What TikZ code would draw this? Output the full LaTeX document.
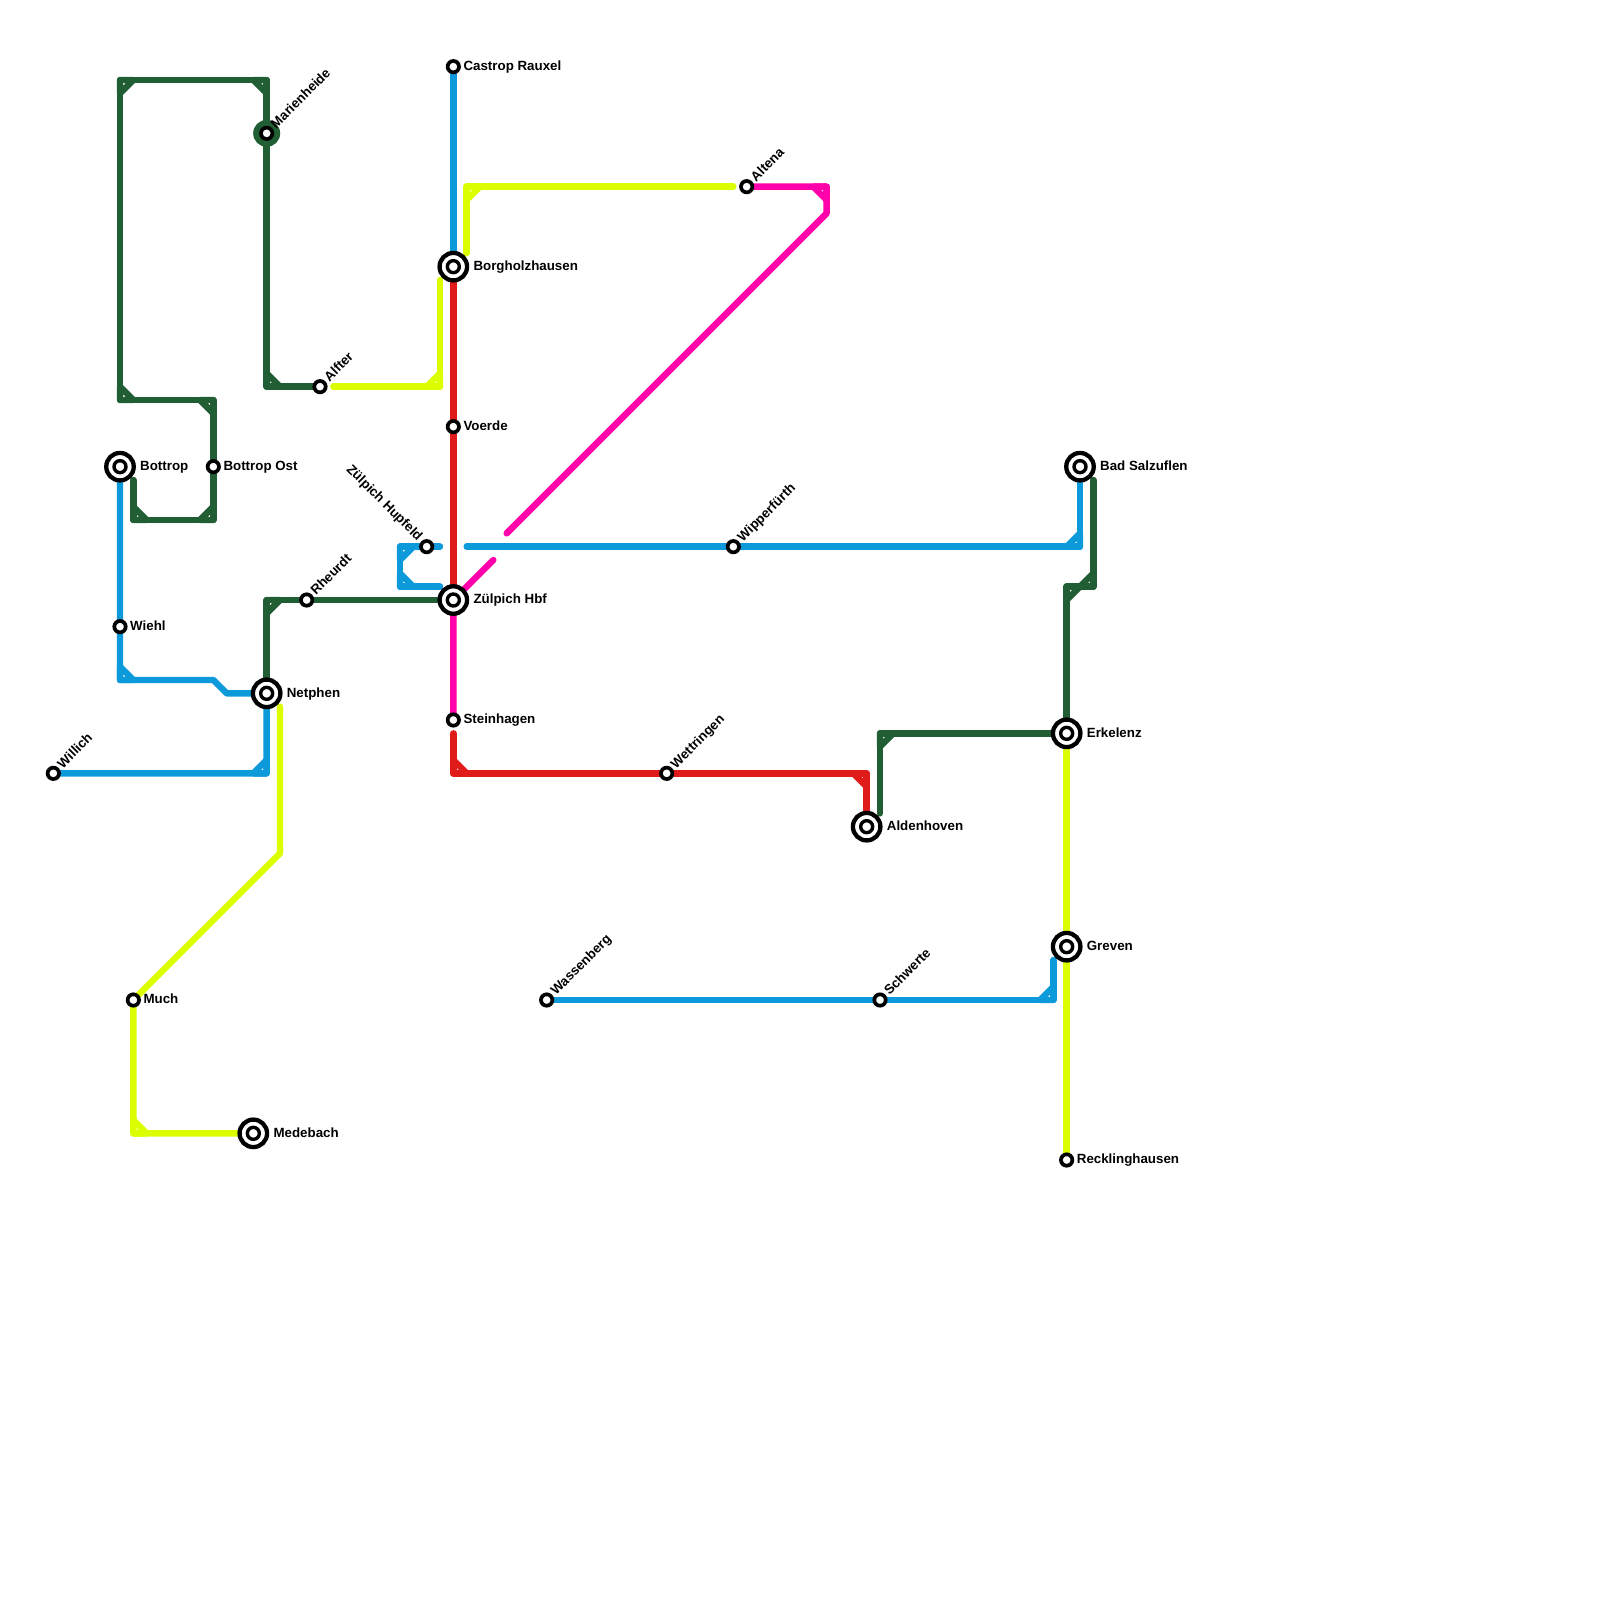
\documentclass[tikz,border=0pt]{standalone}
\usepackage{fontspec}
\setmainfont{Liberation Sans}
\usetikzlibrary{positioning, backgrounds}
\definecolor{linegreen}{HTML}{225E33}
\definecolor{lineblue}{HTML}{0D9ADA}
\definecolor{linered}{HTML}{E11B1A}
\definecolor{linepink}{HTML}{FF00AA}
\definecolor{lineyellow}{HTML}{DCFF00}
\tikzset{
  route/.style={line width=6.4pt, line cap=round, line join=round},
  greenl/.style={route, draw=linegreen},
  bluel/.style={route, draw=lineblue},
  redl/.style={route, draw=linered},
  pinkl/.style={route, draw=linepink},
  yellowl/.style={route, draw=lineyellow},
  stop/.style={circle, draw=black, fill=white, line width=3.7pt, minimum size=11.4pt, inner sep=0pt},
  inner ring/.style={path picture={\draw[line width=3.4pt, fill=white] (path picture bounding box.center) circle (6pt);}},
  hub/.style={circle, draw=black, fill=white, line width=4.3pt, minimum size=27.5pt, inner sep=0pt, inner ring},
  halo/.style={circle, fill=linegreen, minimum size=27pt, inner sep=0pt},
  lbl/.style={font=\fontsize{13.33}{14}\selectfont\bfseries, inner sep=0pt, text height=9.5pt, text depth=0pt, yshift=1pt},
  lblup/.style={lbl, rotate=45, anchor=west},
  lbldown/.style={lbl, rotate=-45, anchor=east}
}
\begin{document}
\begin{tikzpicture}[x=13.3333pt, y=-13.3333pt]
  \useasboundingbox (0,0) rectangle (120,120);

  % stations
  \node[stop] (castrop) at (34,5) {};
  \node[hub]  (borg) at (34,20) {};
  \node[stop] (voerde) at (34,32) {};
  \node[hub]  (zhbf) at (34,45) {};
  \node[stop] (stein) at (34,54) {};
  \node[stop] (hupfeld) at (32,41) {};
  \node[stop] (altena) at (56,14) {};
  \node[stop] (wipper) at (55,41) {};
  \node[stop] (wett) at (50,58) {};
  \node[hub]  (alden) at (65,62) {};
  \node[hub]  (erk) at (80,55) {};
  \node[hub]  (greven) at (80,71) {};
  \node[stop] (reck) at (80,87) {};
  \node[stop] (schwerte) at (66,75) {};
  \node[stop] (wassen) at (41,75) {};
  \node[hub]  (salz) at (81,35) {};
  \node[hub]  (bottrop) at (9,35) {};
  \node[stop] (bost) at (16,35) {};
  \node[stop] (wiehl) at (9,47) {};
  \node[hub]  (netphen) at (20,52) {};
  \node[stop] (rheurdt) at (23,45) {};
  \node[stop] (alfter) at (24,29) {};
  \node[halo] (mhalo) at (20,10) {};
  \node[stop] (marien) at (20,10) {};
  \node[stop] (willich) at (4,58) {};
  \node[stop] (much) at (10,75) {};
  \node[hub]  (mede) at (19,85) {};

  % labels
  \node[lbl, right=10pt of castrop.center] (l1) {Castrop Rauxel};
  \node[lbl, right=20pt of borg.center] (l2) {Borgholzhausen};
  \node[lbl, right=10pt of voerde.center] (l3) {Voerde};
  \node[lbl, right=20pt of zhbf.center] (l4) {Zülpich Hbf};
  \node[lbl, right=10pt of stein.center] (l5) {Steinhagen};
  \node[lbl, right=20pt of alden.center] (l6) {Aldenhoven};
  \node[lbl, right=20pt of erk.center] (l7) {Erkelenz};
  \node[lbl, right=20pt of greven.center] (l8) {Greven};
  \node[lbl, right=10pt of reck.center] (l9) {Recklinghausen};
  \node[lbl, right=20pt of salz.center] (l10) {Bad Salzuflen};
  \node[lbl, right=20pt of bottrop.center] (l11) {Bottrop};
  \node[lbl, right=10pt of bost.center] (l12) {Bottrop Ost};
  \node[lbl, right=10pt of wiehl.center] (l13) {Wiehl};
  \node[lbl, right=20pt of netphen.center] (l14) {Netphen};
  \node[lbl, right=10pt of much.center] (l15) {Much};
  \node[lbl, right=20pt of mede.center] (l16) {Medebach};
  \node[lblup] (l17) at ([shift={(6pt,6.5pt)}]marien.center) {Marienheide};
  \node[lblup] (l18) at ([shift={(6pt,6.5pt)}]alfter.center) {Alfter};
  \node[lblup] (l19) at ([shift={(6pt,6.5pt)}]rheurdt.center) {Rheurdt};
  \node[lblup] (l20) at ([shift={(6pt,6.5pt)}]altena.center) {Altena};
  \node[lblup] (l21) at ([shift={(6pt,6.5pt)}]wipper.center) {Wipperfürth};
  \node[lblup] (l22) at ([shift={(6pt,6.5pt)}]wett.center) {Wettringen};
  \node[lblup] (l23) at ([shift={(6pt,6.5pt)}]schwerte.center) {Schwerte};
  \node[lblup] (l24) at ([shift={(6pt,6.5pt)}]wassen.center) {Wassenberg};
  \node[lblup] (l25) at ([shift={(6pt,6.5pt)}]willich.center) {Willich};
  \node[lbldown] (l26) at ([shift={(-6pt,7.5pt)}]hupfeld.center) {Zülpich Hupfeld};

  % bends and free ends
  \coordinate (g1) at (20,6);
  \coordinate (g2) at (9,6);
  \coordinate (g3) at (9,30);
  \coordinate (g4) at (16,30);
  \coordinate (g5) at (16,39);
  \coordinate (g6) at (10,39);
  \coordinate (g7) at (10,36);
  \coordinate (g8) at (20,29);
  \coordinate (g9) at (20,45);
  \coordinate (g10) at (66,61);
  \coordinate (g11) at (66,55);
  \coordinate (g12) at (80,44);
  \coordinate (g13) at (82,44);
  \coordinate (g14) at (82,36);
  \coordinate (b1) at (9,51);
  \coordinate (b2) at (16,51);
  \coordinate (b3) at (17,52);
  \coordinate (b4) at (20,58);
  \coordinate (b5) at (33,41);
  \coordinate (b6) at (30,41);
  \coordinate (b7) at (30,44);
  \coordinate (b8) at (33,44);
  \coordinate (b9) at (35,41);
  \coordinate (b10) at (81,41);
  \coordinate (b11) at (79,75);
  \coordinate (b12) at (79,72);
  \coordinate (r1) at (34,55);
  \coordinate (r2) at (34,58);
  \coordinate (r3) at (65,58);
  \coordinate (p1) at (62,14);
  \coordinate (p2) at (62,16);
  \coordinate (p3) at (38,40);
  \coordinate (p4) at (37,42);
  \coordinate (y1) at (35,19);
  \coordinate (y2) at (35,14);
  \coordinate (y3) at (55,14);
  \coordinate (y4) at (33,21);
  \coordinate (y5) at (33,29);
  \coordinate (y6) at (25,29);
  \coordinate (y7) at (21,53);
  \coordinate (y8) at (21,64);
  \coordinate (y9) at (10,85);

  \begin{scope}[on background layer]
    % green
    \draw[greenl] (marien.center)--(g1)--(g2)--(g3)--(g4)--(bost.center)--(g5)--(g6)--(g7);
    \draw[greenl] (marien.center)--(g8)--(alfter.center);
    \draw[greenl] (netphen.center)--(g9)--(rheurdt.center)--(zhbf.center);
    \draw[greenl] (g10)--(g11)--(erk.center)--(g12)--(g13)--(g14);
    \draw[greenl] (g2) -- +(1,0) -- +(0,1) -- cycle;
    \draw[greenl] (g1) -- +(-1,0) -- +(0,1) -- cycle;
    \draw[greenl] (g3) -- +(1,0) -- +(0,-1) -- cycle;
    \draw[greenl] (g4) -- +(-1,0) -- +(0,1) -- cycle;
    \draw[greenl] (g5) -- +(-1,0) -- +(0,-1) -- cycle;
    \draw[greenl] (g6) -- +(1,0) -- +(0,-1) -- cycle;
    \draw[greenl] (g8) -- +(1,0) -- +(0,-1) -- cycle;
    \draw[greenl] (g9) -- +(1,0) -- +(0,1) -- cycle;
    \draw[greenl] (g11) -- +(1,0) -- +(0,1) -- cycle;
    \draw[greenl] (g12) -- +(1,0) -- +(0,1) -- cycle;
    \draw[greenl] (g13) -- +(-1,0) -- +(0,-1) -- cycle;
    % blue
    \draw[bluel] (castrop.center)--(borg.center);
    \draw[bluel] (bottrop.center)--(wiehl.center)--(b1)--(b2)--(b3)--(netphen.center)--(b4)--(willich.center);
    \draw[bluel] (b5)--(b6)--(b7)--(b8);
    \draw[bluel] (b9)--(wipper.center)--(b10)--(salz.center);
    \draw[bluel] (wassen.center)--(schwerte.center)--(b11)--(b12);
    \draw[bluel] (b1) -- +(1,0) -- +(0,-1) -- cycle;
    \draw[bluel] (b4) -- +(-1,0) -- +(0,-1) -- cycle;
    \draw[bluel] (b6) -- +(1,0) -- +(0,1) -- cycle;
    \draw[bluel] (b7) -- +(1,0) -- +(0,-1) -- cycle;
    \draw[bluel] (b10) -- +(-1,0) -- +(0,-1) -- cycle;
    \draw[bluel] (b11) -- +(-1,0) -- +(0,-1) -- cycle;
    % red
    \draw[redl] (borg.center)--(voerde.center)--(zhbf.center);
    \draw[redl] (r1)--(r2)--(wett.center)--(r3)--(alden.center);
    \draw[redl] (r2) -- +(1,0) -- +(0,-1) -- cycle;
    \draw[redl] (r3) -- +(-1,0) -- +(0,1) -- cycle;
    % pink
    \draw[pinkl] (altena.center)--(p1)--(p2)--(p3);
    \draw[pinkl] (p4)--(zhbf.center)--(stein.center);
    \draw[pinkl] (p1) -- +(-1,0) -- +(0,1) -- cycle;
    % yellow
    \draw[yellowl] (y1)--(y2)--(y3);
    \draw[yellowl] (y4)--(y5)--(y6);
    \draw[yellowl] (y7)--(y8)--(much.center)--(y9)--(mede.center);
    \draw[yellowl] (erk.center)--(greven.center)--(reck.center);
    \draw[yellowl] (y2) -- +(1,0) -- +(0,1) -- cycle;
    \draw[yellowl] (y5) -- +(-1,0) -- +(0,-1) -- cycle;
    \draw[yellowl] (y9) -- +(1,0) -- +(0,-1) -- cycle;
  \end{scope}
\end{tikzpicture}
\end{document}
